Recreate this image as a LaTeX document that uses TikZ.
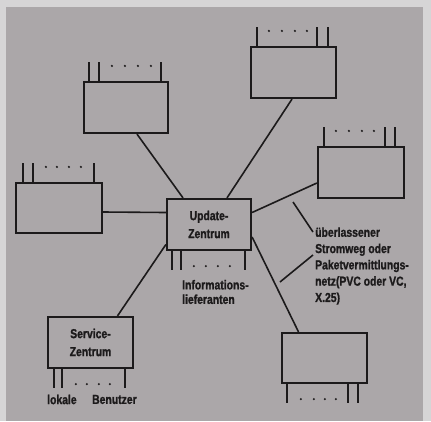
\documentclass[tikz,border=0pt]{standalone}
\usepackage{fontspec}
\newfontfamily\labfont[FakeStretch=0.8,FakeBold=1.2]{Liberation Sans}
\definecolor{paper}{HTML}{D6D5D6}
\definecolor{bggray}{HTML}{ABA7A9}
\definecolor{ink}{HTML}{1C1A1B}
\tikzset{
  box/.style={draw=ink, line width=2.2pt, minimum width=#1, minimum height=51pt, inner sep=0pt},
  conn/.style={draw=ink, line width=1.6pt},
  stub/.style={draw=ink, line width=1.8pt},
  lab/.style={font=\labfont\bfseries\fontsize{13}{#1}\selectfont, text=ink, inner sep=0pt},
  lab/.default=16.3,
}
\newcommand{\stubsabove}[3]{% node, stub offsets, dot offsets
  \foreach \s in {#2} \draw[stub] ([xshift=\s pt]#1.north west) -- ++(0,-19);
  \foreach \d in {#3} \fill[ink] ([xshift=\d pt, yshift=15pt]#1.north west) circle (1.2pt);
}
\newcommand{\stubsbelow}[3]{%
  \foreach \s in {#2} \draw[stub] ([xshift=\s pt]#1.south west) -- ++(0,19);
  \foreach \d in {#3} \fill[ink] ([xshift=\d pt, yshift=-15pt]#1.south west) circle (1.2pt);
}
\begin{document}
\begin{tikzpicture}[x=1pt,y=-1pt]
\fill[paper] (0,0) rectangle (431,421);
\fill[bggray] (6,7) rectangle (423,421);
\useasboundingbox (0,0) rectangle (431,421);

\node[box=84pt] (tl) at (126,107.5) {};
\node[box=85pt] (tr) at (293.5,72.5) {};
\node[box=86pt] (r) at (361,172.5) {};
\node[box=86pt, minimum height=50pt] (l) at (59,208) {};
\node[box=84pt] (c) at (209,224.5) {};
\node[box=85pt] (s) at (90.5,342.5) {};
\node[box=85pt, minimum height=50pt] (br) at (324.5,358) {};

\node[lab=18, align=center] (ct) at (c) {Update-\\Zentrum};
\node[lab=18, align=center] (st) at (s) {Service-\\Zentrum};

\stubsabove{tl}{6,16,78}{29,42,55,68}
\stubsabove{tr}{7,67,78}{19,32,45,57}
\stubsabove{r}{7,68,78}{19,32,45,57}
\stubsabove{l}{8,18,79}{31,42,54,66}
\stubsbelow{c}{6,15,79}{28,40,52,64}
\stubsbelow{s}{7,15,78}{29,40,52,63}
\stubsbelow{br}{6,67,77}{20,33,44,55}

% connectors
\draw[conn] ([xshift=11pt]tl.south) -- ([xshift=-26pt]c.north);
\draw[conn] ([xshift=-1.5pt]tr.south) -- ([xshift=18pt]c.north);
\draw[conn] ([yshift=-10.5pt]r.west) -- ([yshift=12pt]c.east);
\draw[conn] ([yshift=-4pt]l.east) -- ([yshift=12pt]c.west);
\draw[conn] ([yshift=-12.5pt]c.east) -- ([xshift=-26pt]br.north);
\draw[conn] ([xshift=27pt]s.north) -- ([yshift=-20pt]c.west);

% labels
\node[lab=14.5, align=left, anchor=west] (inf) at (182,292) {Informations-\\lieferanten};
\node[lab, anchor=west] (lok) at (47,399.5) {lokale};
\node[lab, anchor=west] (ben) at (92,399.5) {Benutzer};
\node[lab, align=left, anchor=west] (ann) at (315,266) {überlassener\\Stromweg oder\\Paketvermittlungs-\\netz(PVC oder VC,\\X.25)};

\coordinate (a1) at (293,202);
\coordinate (a2) at (280,282);
\draw[conn] ([shift={(-2pt,34pt)}]ann.west) -- (a1);
\draw[conn] ([shift={(-2pt,11pt)}]ann.west) -- (a2);
\end{tikzpicture}
\end{document}
